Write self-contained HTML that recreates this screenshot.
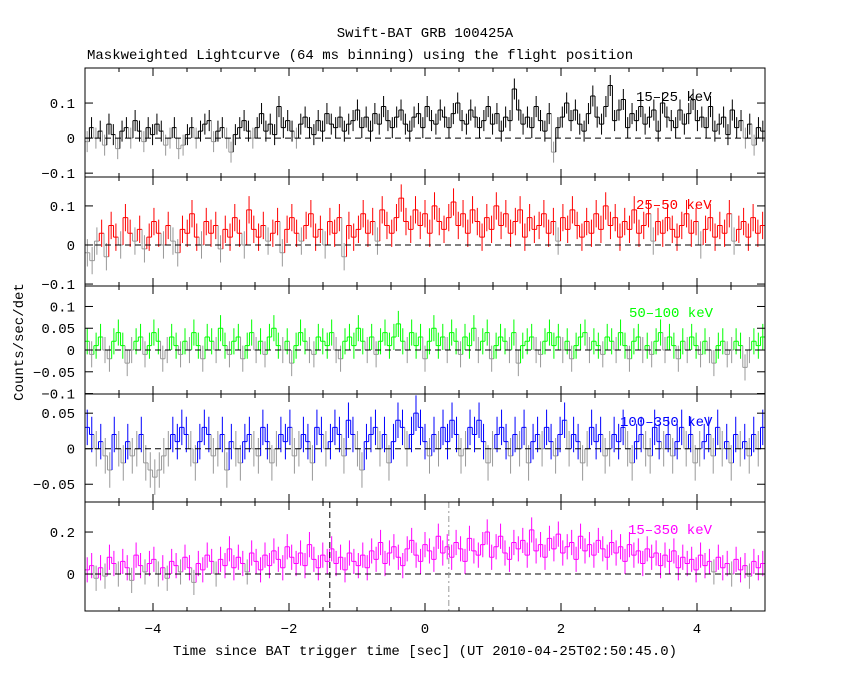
<!DOCTYPE html>
<html><head><meta charset="utf-8"><style>
body{margin:0;background:#fff}
svg text{font-family:"Liberation Mono",monospace;font-size:14px;fill:#000}
</style></head><body>
<svg id="chart" width="850" height="680" viewBox="0 0 850 680" xmlns="http://www.w3.org/2000/svg">
<text x="425" y="37" text-anchor="middle">Swift-BAT GRB 100425A</text>
<text x="87" y="59">Maskweighted Lightcurve (64 ms binning) using the flight position</text>
<text x="425" y="655" text-anchor="middle">Time since BAT trigger time [sec] (UT 2010-04-25T02:50:45.0)</text>
<text x="23" y="342" text-anchor="middle" transform="rotate(-90 23 342)">Counts/sec/det</text>
<g id="plots"></g>
</svg>
<script>
const xTicks=[-4,-2,0,2,4];
const p1Vals=[-1,3,0,2,-2,4,1,-3,2,3,0,5,2,-1,3,1,4,2,-2,0,3,-3,-2,1,3,0,2,4,5,-1,2,3,0,-4,1,3,5,2,0,3,7,2,4,1,9,3,5,2,0,4,6,3,1,5,2,7,4,3,6,2,4,5,8,3,6,2,7,4,9,5,3,6,8,4,2,6,7,3,9,5,4,8,6,3,7,10,5,4,8,6,3,5,9,4,7,2,6,5,14,8,4,6,3,9,5,2,7,-4,3,6,10,5,8,4,2,7,12,6,4,9,15,5,8,11,3,7,5,9,4,6,8,2,10,6,5,3,8,4,7,11,5,6,3,9,2,4,6,1,8,3,5,0,4,-2,3,2];
const p2Vals=[-2,-4,1,3,-3,5,2,0,7,3,1,4,-1,2,6,3,0,5,1,-2,4,3,8,2,0,6,3,5,-1,4,2,7,3,0,9,4,2,5,1,3,6,-2,4,7,3,1,5,8,2,4,0,6,3,7,-3,5,2,4,8,3,6,1,9,5,3,7,12,6,4,9,5,8,3,10,6,4,7,11,5,8,3,9,6,2,7,4,10,5,8,3,6,9,2,7,4,5,8,3,6,1,7,4,9,5,2,6,3,8,4,10,5,7,2,6,4,9,3,5,8,1,6,3,7,4,2,5,8,3,6,0,4,7,2,5,3,8,1,4,6,2,7,3,5];
const p3Vals=[2,-1,1,3,0,-2,2,4,1,-3,0,2,3,-1,1,4,2,-2,0,3,1,-1,2,0,4,1,-2,3,2,0,5,1,-1,2,3,-2,1,4,0,2,-1,3,5,1,0,2,-3,1,4,2,0,-1,3,2,1,4,0,-2,2,3,1,5,2,0,3,-1,2,4,1,3,6,2,0,4,1,3,-2,2,5,1,3,0,4,2,-1,3,1,5,0,2,4,-2,1,3,2,0,4,-3,1,2,3,0,-1,2,4,1,3,0,2,-2,1,3,4,0,2,1,-1,3,2,0,4,1,-2,2,3,0,1,-1,2,4,0,3,1,-2,2,0,3,1,-1,2,0,-3,1,2,-1,0,2,1,-4,0,2,1,3];
const p4Vals=[3,2,0,1,-1,-3,2,0,-2,1,-1,0,2,-2,-3,-4,-3,-1,0,2,1,3,2,0,-2,1,3,2,-1,0,2,-3,1,0,-2,1,2,0,-1,3,1,-2,0,2,1,3,-1,0,2,1,-2,3,2,0,1,3,2,-1,4,2,0,-3,1,2,3,0,2,-2,1,4,3,0,2,5,3,1,-1,2,0,3,1,4,2,-1,0,3,2,4,1,-2,0,2,3,1,-1,2,0,3,-2,1,2,0,3,1,-1,2,4,0,2,1,-2,0,3,1,2,-1,0,2,1,3,0,-2,1,2,0,-1,3,1,0,2,-1,1,3,0,2,-2,0,1,2,-1,3,0,1,-2,2,0,1,-1,2,0,3];
const p5Vals=[2,4,-2,3,-1,8,5,0,6,3,-3,9,4,1,5,7,0,3,-2,6,4,1,8,3,-4,5,2,9,6,0,7,4,12,3,8,5,1,10,6,2,9,4,11,7,3,13,8,5,10,4,14,7,3,9,6,12,5,8,2,10,6,4,9,3,11,7,15,5,10,13,8,4,12,16,9,6,14,11,7,18,10,13,8,15,12,6,17,11,9,14,20,8,13,18,10,7,15,12,16,9,21,11,14,8,17,12,19,10,13,15,7,18,11,14,9,16,12,8,15,10,13,6,14,9,11,5,12,8,10,4,9,6,11,3,8,5,7,2,9,4,6,1,8,3,5,0,7,2,4,-1,6,3,5];
const p1Ticks=[-0.1,0,0.1], p2Ticks=[-0.1,0,0.1], p3Ticks=[-0.1,-0.05,0,0.05,0.1], p4Ticks=[-0.05,0,0.05], p5Ticks=[0,0.2];
const p1Err=0.03,p2Err=0.035,p3Err=0.03,p4Err=0.025,p5Err=0.06;
const markers=[-1.4,0.35];

const NS="http://www.w3.org/2000/svg";
const root=document.getElementById('plots');
const X0=85,X1=765,T0=-5,T1=5;
const xs=t=>X0+(t-T0)/(T1-T0)*(X1-X0);
function mk(tag,at,parent){const e=document.createElementNS(NS,tag);for(const k in at)e.setAttribute(k,at[k]);(parent||root).appendChild(e);return e;}
function fmt(v){if(v===0)return "0";return String(v).replace("-","\u2212");}

const panels=[
 {vals:p1Vals,ticks:p1Ticks,err:p1Err,top:68,bot:177,ymax:0.2,ymin:-0.111,col:"#000",label:"15\u201325 keV",lx:636,ly:101,name:"panel-15-25kev"},
 {vals:p2Vals,ticks:p2Ticks,err:p2Err,top:177,bot:286,ymax:0.174,ymin:-0.105,col:"#ff0000",label:"25\u201350 keV",lx:636,ly:209,name:"panel-25-50kev"},
 {vals:p3Vals,ticks:p3Ticks,err:p3Err,top:286,bot:394,ymax:0.147,ymin:-0.101,col:"#00ff00",label:"50\u2013100 keV",lx:629,ly:317,name:"panel-50-100kev"},
 {vals:p4Vals,ticks:p4Ticks,err:p4Err,top:394,bot:502,ymax:0.077,ymin:-0.075,col:"#0000ff",label:"100\u2013350 keV",lx:620,ly:426,name:"panel-100-350kev"},
 {vals:p5Vals,ticks:p5Ticks,err:p5Err,top:502,bot:611,ymax:0.343,ymin:-0.176,col:"#ff00ff",label:"15\u2013350 keV",lx:628,ly:534,name:"panel-15-350kev"}
];
panels.forEach((p,pi)=>{
 const g=mk('g',{});
 
 
 const ys=v=>p.bot-(v-p.ymin)/(p.ymax-p.ymin)*(p.bot-p.top);
 const clip=mk('clipPath',{id:'c'+pi},g);
 mk('rect',{x:X0,y:p.top,width:X1-X0,height:p.bot-p.top},clip);
 const dg=mk('g',{'clip-path':'url(#c'+pi+')'},g);
 const n=p.vals.length,w=(T1-T0)/n;
 const colOf=v=>(v<p.err*0.3)?"#999":p.col;
 for(let i=0;i<n;i++){
  const v=p.vals[i]/100, t0=T0+i*w, t1=t0+w, tc=t0+w/2;
  const c=colOf(v);
  const bar=mk('path',{d:`M${xs(t0)},${ys(v)}H${xs(t1)}M${xs(tc)},${ys(v+p.err)}V${ys(v-p.err)}`,stroke:c,'stroke-width':1,fill:'none'},dg);
  
  
  if(i<n-1){const v2=p.vals[i+1]/100;
   mk('path',{d:`M${xs(t1)},${ys(v)}V${ys(v2)}`,stroke:colOf(v2),'stroke-width':1},dg);}
 }
 const zl=mk('line',{x1:X0,x2:X1,y1:ys(0),y2:ys(0),stroke:'#000','stroke-dasharray':'6,4'},g);
 
 
 if(pi===4){
  const m1=mk('line',{x1:xs(markers[0]),x2:xs(markers[0]),y1:p.top,y2:p.bot,stroke:'#000','stroke-dasharray':'6,4'},g);
  
  
  const m2=mk('line',{x1:xs(markers[1]),x2:xs(markers[1]),y1:p.top,y2:p.bot,stroke:'#999','stroke-dasharray':'6,3,2,3'},g);
  
  
 }
 mk('rect',{x:X0,y:p.top,width:X1-X0,height:p.bot-p.top,fill:'none',stroke:'#000'},g);
 for(let t=-5;t<=5.001;t+=0.5){
  const major=Math.abs(t%2)<1e-6;const L=major?8:4;
  mk('line',{x1:xs(t),x2:xs(t),y1:p.bot,y2:p.bot-L,stroke:'#000'},g);
  mk('line',{x1:xs(t),x2:xs(t),y1:p.top,y2:p.top+L,stroke:'#000'},g);
 }
 p.ticks.forEach(v=>{
  const y=ys(v);
  mk('line',{x1:X0,x2:X0+8,y1:y,y2:y,stroke:'#000'},g);
  mk('line',{x1:X1,x2:X1-8,y1:y,y2:y,stroke:'#000'},g);
  const tx=mk('text',{x:X0-10,y:y+5,'text-anchor':'end'},g);
  tx.textContent=fmt(v);
  
  
 });
 const lb=mk('text',{x:p.lx,y:p.ly},g);
 lb.setAttribute('style','fill:'+p.col);
 lb.textContent=p.label;
 
 
});
xTicks.forEach(t=>{
 const tx=mk('text',{x:xs(t),y:633,'text-anchor':'middle'});
 tx.textContent=t<0?"\u2212"+(-t):String(t);
 
 
});
</script>
</body></html>
